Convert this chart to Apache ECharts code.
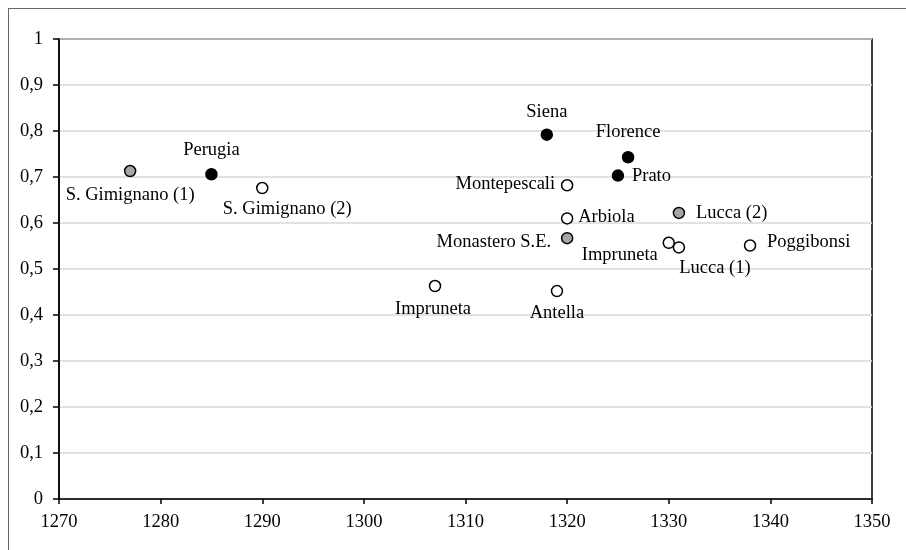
<!DOCTYPE html>
<html>
<head>
<meta charset="utf-8">
<script src="https://cdn.jsdelivr.net/npm/echarts@6/dist/echarts.min.js"></script>
<style>
  html, body { margin: 0; padding: 0; background: #fff; }
  #chart { width: 906px; height: 550px; }
</style>
</head>
<body>
<div id="chart"></div>
<script>
// site data
const siteNames = ['S. Gimignano (1)', 'Perugia', 'S. Gimignano (2)', 'Impruneta', 'Siena', 'Florence', 'Prato',
  'Montepescali', 'Arbiola', 'Monastero S.E.', 'Antella', 'Impruneta', 'Lucca (1)', 'Lucca (2)', 'Poggibonsi'];
const siteYears = [1277, 1285, 1290, 1307, 1318, 1326, 1325, 1320, 1320, 1320, 1319, 1330, 1331, 1331, 1338];
const siteValues = [0.713, 0.706, 0.676, 0.463, 0.792, 0.743, 0.703, 0.682, 0.610, 0.567, 0.452, 0.557, 0.547, 0.622, 0.551];
// marker group: 'b' = black, 'g' = grey, 'w' = white
const siteGroups = ['g', 'b', 'w', 'w', 'b', 'b', 'b', 'w', 'w', 'g', 'w', 'w', 'w', 'g', 'w'];

const xTicks = [1270, 1280, 1290, 1300, 1310, 1320, 1330, 1340, 1350];
const yTicks = [0, 0.1, 0.2, 0.3, 0.4, 0.5, 0.6, 0.7, 0.8, 0.9, 1];

// label placement per point: [align, dx, dy]
const labelPlacement = [
  ['center', 0, 24], ['center', 0, -24], ['center', 25, 21], ['center', -2, 23],
  ['center', 0, -23], ['center', 0, -25], ['left', 14, 1], ['right', -12, -1],
  ['left', 11, -1], ['right', -16, 4], ['center', 0, 22], ['center', -49, 12],
  ['center', 36, 21], ['left', 17, 0], ['left', 17, -3]
];

const fills = { b: '#000000', g: '#a6a6a6', w: '#ffffff' };
const fontFamily = '"Liberation Serif", "DejaVu Serif", serif';
const fontSize = 18.5;

const points = siteNames.map((name, i) => {
  return {
    name: name,
    value: [siteYears[i], siteValues[i]],
    itemStyle: { color: fills[siteGroups[i]] },
    label: { align: labelPlacement[i][0] }
  };
});

const chart = echarts.init(document.getElementById('chart'));
chart.setOption({
  animation: false,
  backgroundColor: '#fff',
  graphic: [
    { type: 'line', shape: { x1: 8, y1: 8.5, x2: 906, y2: 8.5 }, style: { stroke: '#666', lineWidth: 1 } },
    { type: 'line', shape: { x1: 8.5, y1: 8, x2: 8.5, y2: 550 }, style: { stroke: '#666', lineWidth: 1 } }
  ],
  grid: {
    left: 59, right: 34, top: 39, bottom: 51,
    show: true, borderColor: '#000', borderWidth: 1.5, backgroundColor: 'transparent'
  },
  xAxis: {
    type: 'value',
    min: xTicks[0], max: xTicks[xTicks.length - 1], interval: 10,
    axisLine: { show: true, onZero: false, lineStyle: { color: '#000', width: 1.5 } },
    axisTick: { show: true, length: 5, lineStyle: { color: '#000', width: 1.5 } },
    axisLabel: { color: '#000', fontSize: fontSize, fontFamily: fontFamily, margin: 14, formatter: v => String(v) },
    splitLine: { show: false }
  },
  yAxis: {
    type: 'value',
    min: yTicks[0], max: yTicks[yTicks.length - 1], interval: 0.1,
    axisLine: { show: true, onZero: false, lineStyle: { color: '#000', width: 1.5 } },
    axisTick: { show: true, length: 6, lineStyle: { color: '#000', width: 1.5 } },
    axisLabel: {
      color: '#000', fontSize: fontSize, fontFamily: fontFamily, margin: 16,
      formatter: v => String(Math.round(v * 10) / 10).replace('.', ',')
    },
    splitLine: { show: true, lineStyle: { color: '#d9d9d9', width: 1.5 } }
  },
  series: [{
    type: 'scatter',
    symbol: 'circle',
    symbolSize: 11,
    itemStyle: { borderColor: '#000', borderWidth: 1.5, opacity: 1 },
    label: {
      show: true,
      position: 'inside',
      verticalAlign: 'middle',
      formatter: '{b}',
      color: '#000',
      fontSize: fontSize,
      fontFamily: fontFamily
    },
    labelLayout: params => ({
      dx: labelPlacement[params.dataIndex][1],
      dy: labelPlacement[params.dataIndex][2]
    }),
    data: points
  }]
});
</script>
</body>
</html>
